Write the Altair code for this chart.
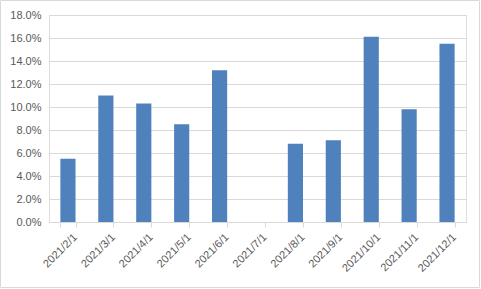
import altair as alt
import pandas as pd

months = ["2021/2/1", "2021/3/1", "2021/4/1", "2021/5/1", "2021/6/1", "2021/7/1",
          "2021/8/1", "2021/9/1", "2021/10/1", "2021/11/1", "2021/12/1"]
values = [0.055, 0.110, 0.103, 0.085, 0.132, 0.0, 0.068, 0.071, 0.161, 0.098, 0.155]

df = pd.DataFrame({"month": months, "value": values})

W, H = 417, 207
L, T = 49, 15

bars = alt.Chart(df).mark_bar(color="#4f81bd").encode(
    x=alt.X("month:N", sort=months, title=None,
            scale=alt.Scale(paddingInner=0.6, paddingOuter=0.3),
            axis=alt.Axis(labelAngle=-45, labelFont="Liberation Sans", labelFontSize=11,
                          labelColor="#595959", tickColor="#d9d9d9", domainColor="#d9d9d9",
                          tickBand="extent", tickSize=5, grid=False, labelPadding=4,
                          labelOffset=3)),
    y=alt.Y("value:Q", title=None,
            scale=alt.Scale(domain=[0, 0.18], nice=False),
            axis=alt.Axis(format=".1%", values=[i * 0.02 for i in range(10)],
                          labelFont="Liberation Sans", labelFontSize=11, labelColor="#595959",
                          domain=False, ticks=False, gridColor="#d9d9d9", labelPadding=8)),
)

border = alt.Chart(pd.DataFrame({"a": [0]})).mark_rect(
    fill=None, stroke="#d9d9d9", strokeWidth=1
).encode(
    x=alt.value(-L + 0.5), x2=alt.value(481 - L - 1.5),
    y=alt.value(-T + 0.5), y2=alt.value(289 - T - 1.5),
)

chart = alt.layer(bars, border).properties(
    width=W, height=H,
    autosize=alt.AutoSizeParams(type="none"),
    padding={"left": L, "top": T, "right": 481 - L - W, "bottom": 289 - T - H},
).configure_view(stroke=None).configure(background="white")

chart.save("out.html", embed_options={"renderer": "svg", "actions": False})
